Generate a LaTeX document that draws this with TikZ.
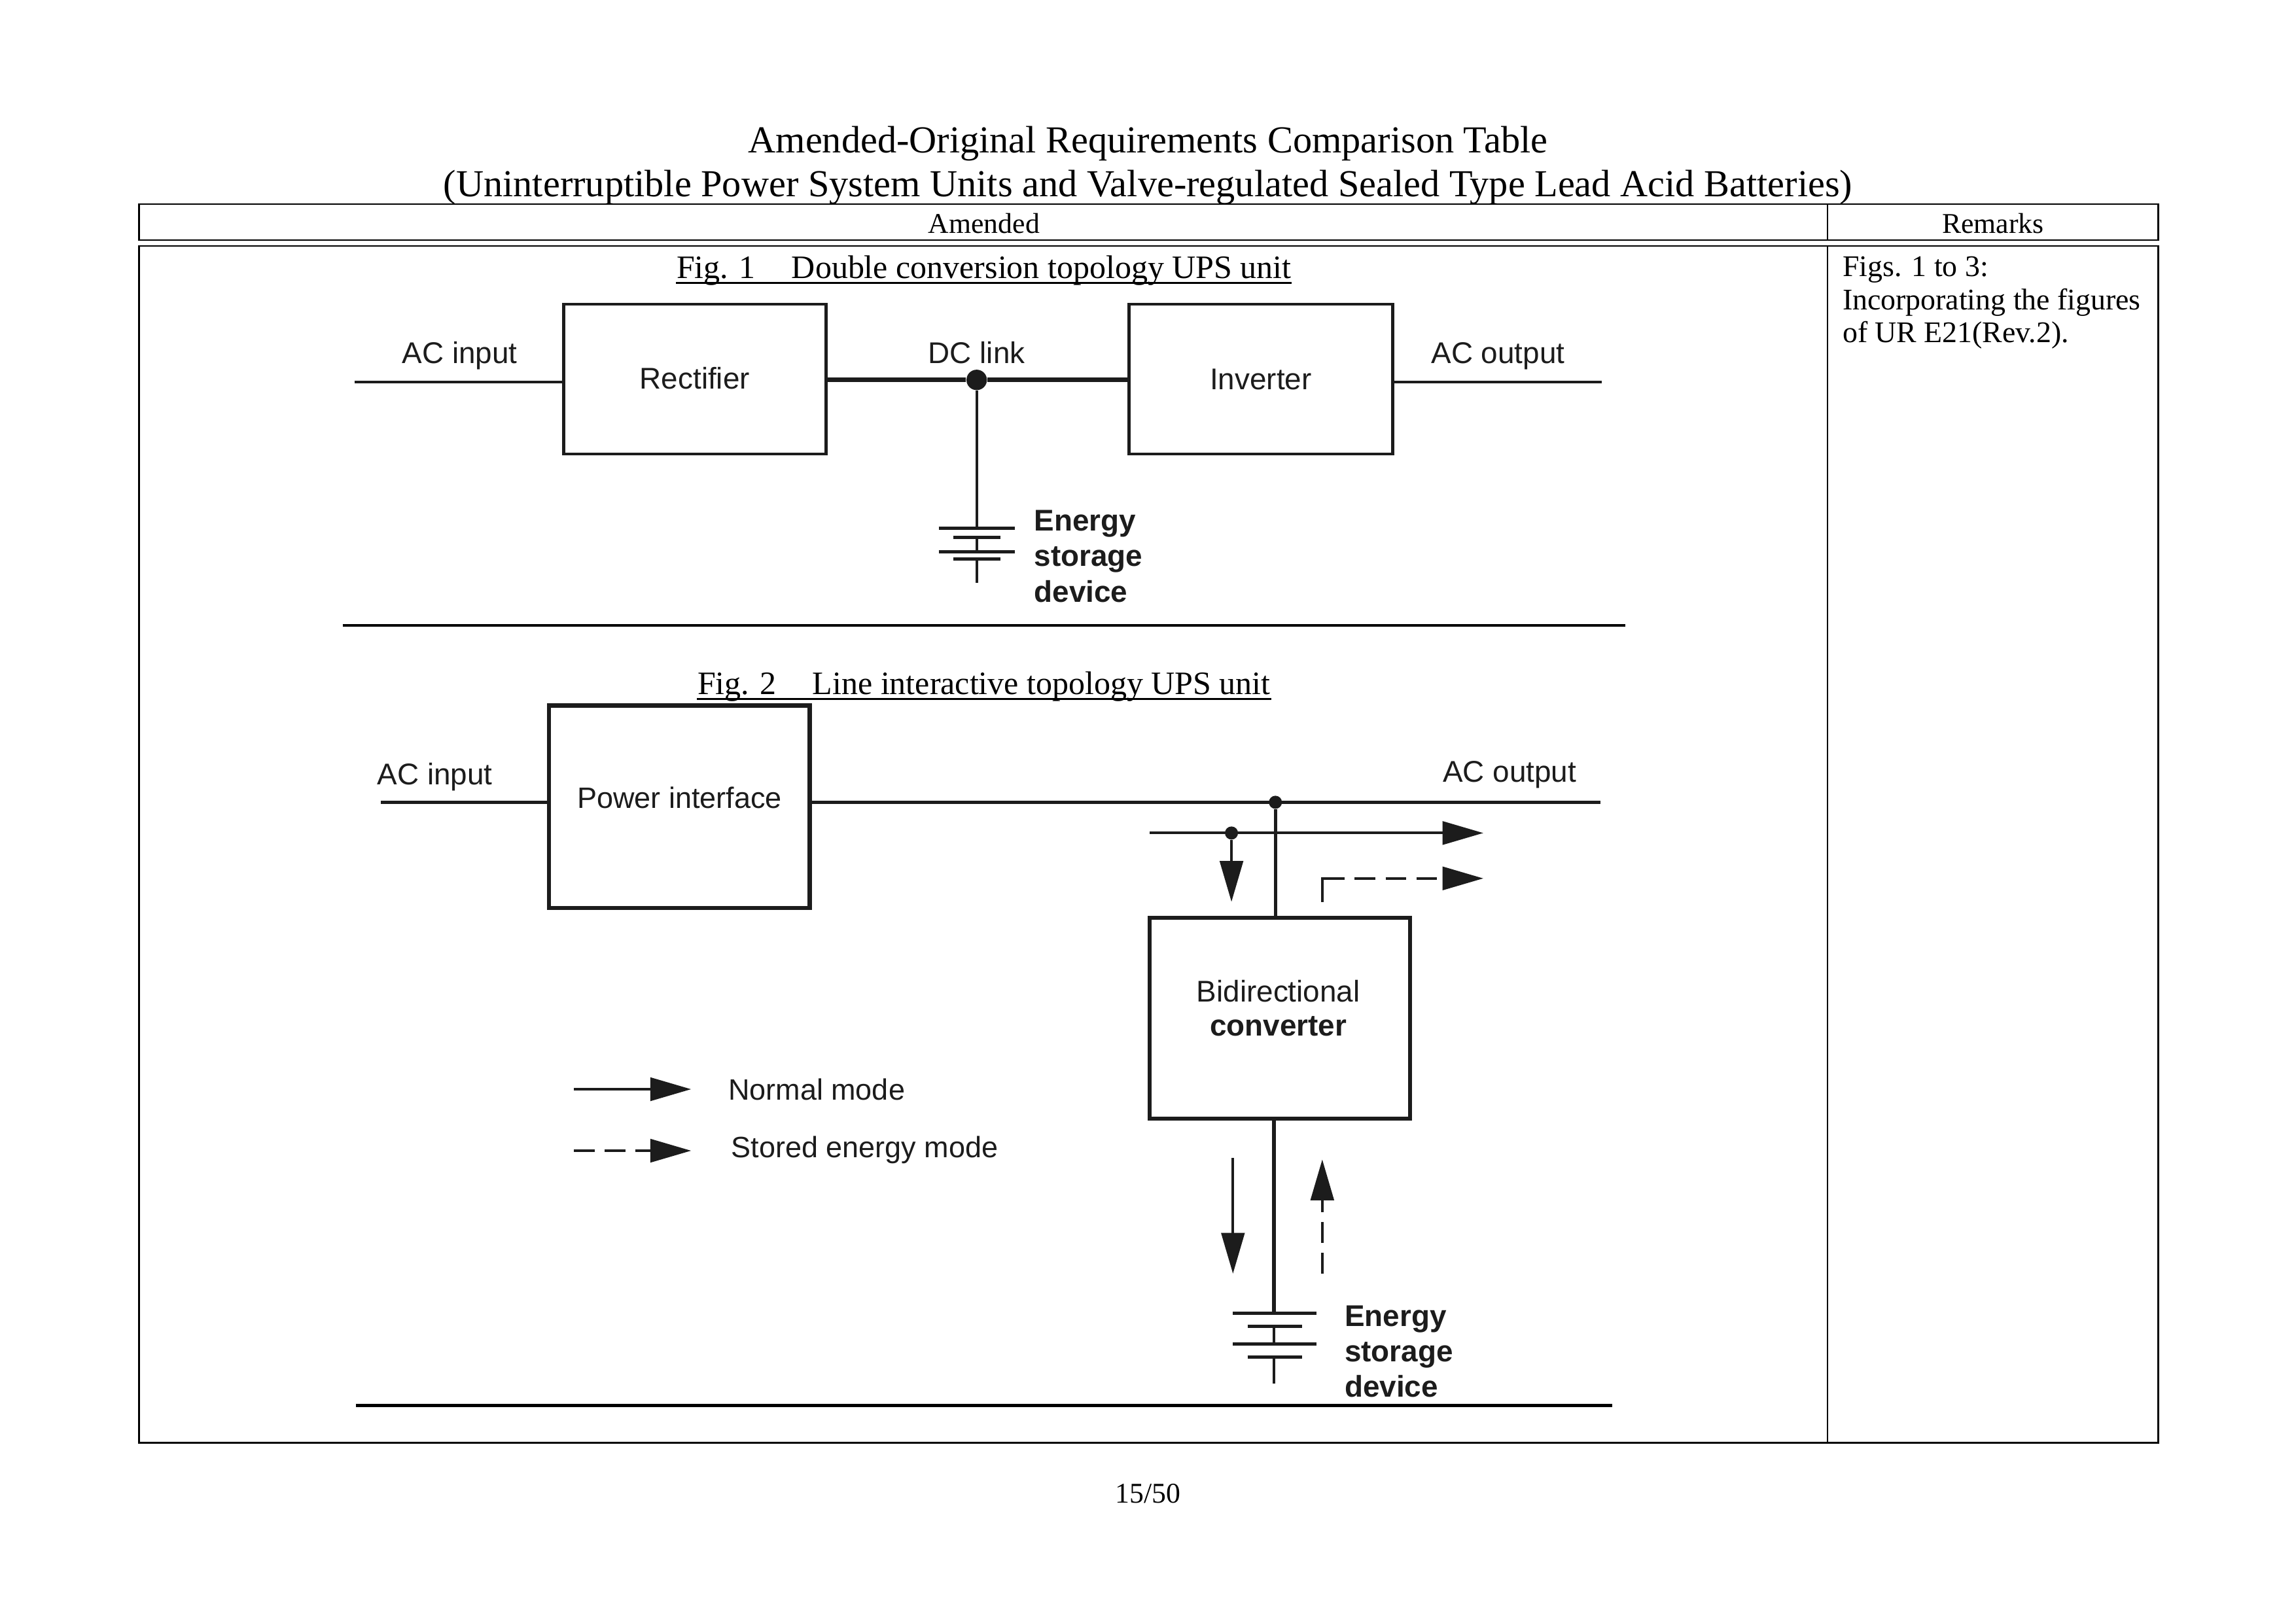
\documentclass[tikz,border=0pt]{standalone}
\usepackage{fontspec}
\setmainfont{Liberation Serif}
\newfontfamily\figsans{Liberation Sans}
\usetikzlibrary{arrows.meta,calc}
\tikzset{
  tbl/.style={draw=black,line width=0.6pt},
  blk/.style={draw=figk,line width=#1,inner sep=0pt,fill=none},
  blk/.default=1.1pt,
  wire/.style={draw=figk,line width=1.1pt},
  thickwire/.style={draw=figk,line width=1.6pt},
  plate/.style={draw=figk,line width=1.2pt},
  flow/.style={draw=figk,line width=1pt,-{Triangle[length=15pt,width=8.5pt]}},
  dflow/.style={flow,dash pattern=on 7.6pt off 3.7pt},
  dotn/.style={circle,fill=figk,inner sep=0pt,minimum size=#1},
  lab/.style={font=\figsans\fontsize{11}{13}\selectfont,text=figk,inner sep=0pt},
  slab/.style={font=\figsans\fontsize{10.8}{13}\selectfont,text=figk,inner sep=0pt},
  blab/.style={font=\figsans\bfseries\fontsize{11}{13}\selectfont,text=figk,inner sep=0pt,align=left},
  serif/.style={inner sep=0pt,text=black},
  capline/.style={draw=black,line width=0.7pt},
  rulel/.style={draw=black,line width=1pt},
}
\definecolor{figk}{HTML}{1C1C1C}
\begin{document}
\begin{tikzpicture}[x=0.5372pt,y=-0.5372pt]
\useasboundingbox (0,0) rectangle (1568,1108.6);
\fill[white] (0,0) rectangle (1568,1108.6);
% Titles
\node[serif,font=\fontsize{14}{16}\selectfont] (t1) at (784,98) {Amended-Original Requirements Comparison Table};
\node[serif,font=\fontsize{14}{16}\selectfont] (t2) at (784,128) {(Uninterruptible Power System Units and Valve-regulated Sealed Type Lead Acid Batteries)};
% Table
\draw[tbl] (95,139.5) rectangle (1474,164);
\draw[tbl] (1248,139.5) -- (1248,164);
\draw[tbl] (95,168) rectangle (1474,985.5);
\draw[tbl] (1248,168) -- (1248,985.5);
\node[serif,font=\fontsize{10.5}{12}\selectfont] (h1) at (672,152.5) {Amended};
\node[serif,font=\fontsize{10.5}{12}\selectfont] (h2) at (1361,152.5) {Remarks};
\node[serif,font=\fontsize{11}{12.1}\selectfont,anchor=north west,align=left] (rem) at (1258,175) {Figs. 1 to 3:\\Incorporating the figures\\of UR E21(Rev.2).};
\node[serif,font=\fontsize{10.5}{12}\selectfont] (pg) at (784,1020) {15/50};
% Fig 1
\node[serif,font=\fontsize{12}{14}\selectfont] (c1) at (672,185) {Fig. 1\hspace{1.1em}Double conversion topology UPS unit};
\draw[capline] ($(c1.base west)+(0,3)$) -- ($(c1.base east)+(0,3)$);
\node[blk,minimum width=96.2pt,minimum height=55pt,lab] (rect) at (474.5,259) {\raisebox{0.6pt}{Rectifier}};
\node[blk,minimum width=96.7pt,minimum height=55pt,lab] (inv) at (861,259) {Inverter};
\coordinate (a1) at (242,261);
\coordinate (a2) at (1094,261);
\node[dotn=7.5pt] (dc) at (667,259.5) {};
\draw[wire] (a1) -- (a1 -| rect.west);
\draw[wire] (inv.east |- a2) -- (a2);
\draw[thickwire] (rect.east |- dc) -- (dc) -- (inv.west |- dc);
\node[lab] (l1) at (314,243) {AC input};
\node[lab] (l2) at (667,241) {DC link};
\node[lab] (l3) at (1023,243) {AC output};
\coordinate (b1) at (667,361);
\draw[wire,line width=1pt] (dc) -- (b1);
\draw[plate] (641,361) -- (693,361);
\draw[plate] (651,367) -- (683,367);
\draw[wire,line width=1pt] (667,367) -- (667,377);
\draw[plate] (641,377) -- (693,377);
\draw[plate] (651,382) -- (683,382);
\draw[wire,line width=1pt] (667,382) -- (667,398);
\node[blab,anchor=west] (e1) at (706,380) {Energy\\storage\\device};
\draw[rulel] (234,427) -- (1110,427);
% Fig 2
\node[serif,font=\fontsize{12}{14}\selectfont] (c2) at (672,469) {Fig. 2\hspace{1.1em}Line interactive topology UPS unit};
\draw[capline] ($(c2.base west)+(0,3)$) -- ($(c2.base east)+(0,3)$);
\node[blk=1.5pt,minimum width=95.6pt,minimum height=74.2pt] (pi) at (464,551) {};
\node[slab] (pit) at (464,545) {Power interface};
\node[blk=1.5pt,minimum width=95.6pt,minimum height=73.7pt] (bc) at (874,695.5) {};
\node[lab] (bc1) at (873,677) {Bidirectional};
\node[blab] (bc2) at (873,701) {converter};
\coordinate (c1a) at (260,548);
\coordinate (c2a) at (1093,548);
\draw[wire] (c1a) -- (c1a -| pi.west);
\draw[wire] (pi.east |- c2a) -- (c2a);
\node[lab] (l4) at (297,530.5) {AC input};
\node[lab] (l5) at (1031,529) {AC output};
\node[dotn=4.8pt] (d1) at (871,548) {};
\draw[wire] (d1) -- (d1 |- bc.north);
\coordinate (n1) at (785,569);
\coordinate (n2) at (1013,569);
\draw[flow] (n1) -- (n2);
\node[dotn=4.8pt] (d2) at (841,569) {};
\coordinate (n3) at (841,616);
\draw[flow] (d2) -- (n3);
\coordinate (m1) at (903,616);
\coordinate (m2) at (1013,600);
\draw[flow,dash pattern=on 16.8pt off 3.7pt on 7.6pt off 3.7pt on 7.6pt off 3.7pt on 7.6pt off 3.7pt] (m1) -- (m1 |- m2) -- (m2);
\coordinate (b2) at (870,897);
\draw[wire,line width=1.5pt] (b2 |- bc.south) -- (b2);
\draw[plate] (842,897) -- (899,897);
\draw[plate] (852,906) -- (889,906);
\draw[wire] (870,906) -- (870,918);
\draw[plate] (842,918) -- (899,918);
\draw[plate] (852,927) -- (889,927);
\draw[wire] (870,927) -- (870,945);
\node[blab,anchor=west] (e2) at (918,923) {Energy\\storage\\device};
\coordinate (p1) at (842,791);
\coordinate (p2) at (842,870);
\draw[flow] (p1) -- (p2);
\coordinate (q1) at (903,870);
\coordinate (q2) at (903,792);
\draw[dflow] (q1) -- (q2);
% Legend
\coordinate (g1) at (392,744);
\coordinate (g2) at (472,744);
\coordinate (g3) at (392,786);
\coordinate (g4) at (472,786);
\draw[flow] (g1) -- (g2);
\draw[dflow] (g3) -- (g4);
\node[slab,anchor=west] (g5) at (497,744) {Normal mode};
\node[slab,anchor=west] (g6) at (499,785.5) {Stored energy mode};
\draw[rulel] (243,960) -- (1101,960);
\end{tikzpicture}
\end{document}
